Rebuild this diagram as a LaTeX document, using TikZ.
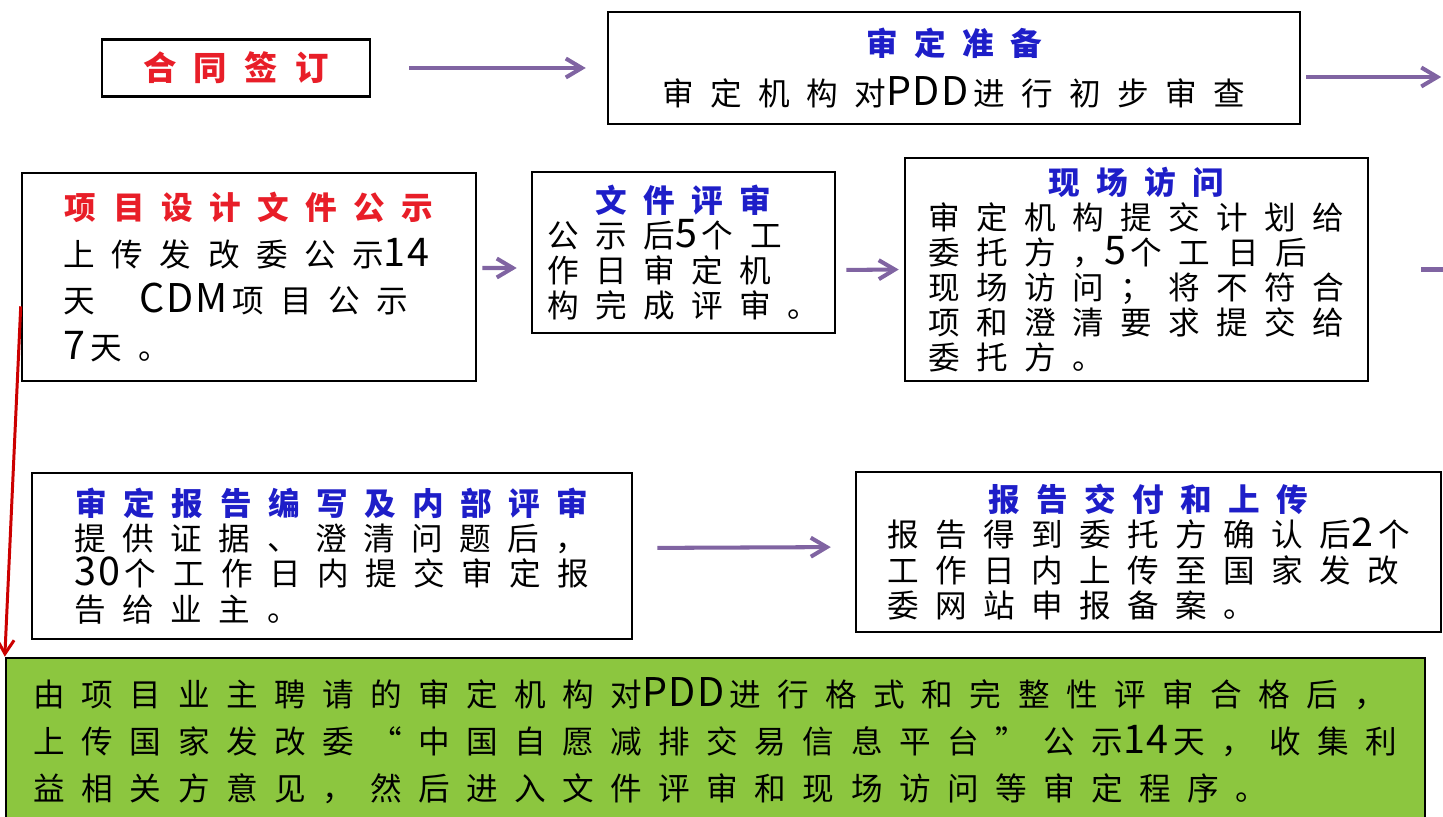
\documentclass[tikz,border=0pt]{standalone}
\usepackage{fontspec}
\setmainfont{Noto Sans CJK SC}[LetterSpace=52]
\newfontfamily\latinpart{Noto Sans CJK SC}[Scale=1.25, LetterSpace=4]
\usetikzlibrary{arrows.meta}
\definecolor{flowpurple}{RGB}{128,100,162}
\definecolor{notegreen}{RGB}{140,198,63}
\definecolor{headred}{RGB}{232,30,40}
\definecolor{headblue}{RGB}{30,30,200}
\newcommand{\latword}[1]{{\latinpart #1}\hspace{0.15em}}
\newcommand{\redhead}[1]{{\bfseries\color{headred}#1}}
\newcommand{\bluehead}[1]{{\bfseries\color{headblue}#1}}
\newcommand{\stagetext}[2]{\vbox{\let\\\cr\halign{##\hfil\cr\hfill#1\hfill\cr#2\crcr}}}
\tikzset{
    stage/.style={draw=black, line width=1.5pt, inner sep=0pt, font=\fontsize{18}{20}\selectfont},
    loose/.style={font=\fontsize{18}{26.7}\selectfont},
    flow/.style={draw=flowpurple, line width=2.3pt, -{Straight Barb[length=0.32cm,width=0.38cm]}},
    backline/.style={draw=red!80!black, line width=1.7pt, -{Straight Barb[length=0.28cm,width=0.34cm]}}
}
\begin{document}
\begin{tikzpicture}[x=0.02cm, y=-0.02cm]
            \useasboundingbox (0,0) rectangle (1443,817);
            \clip (0,0) rectangle (1443,817);
            \node[stage, font=\fontsize{19}{20}\selectfont, minimum width=5.36cm, minimum height=1.14cm] (sign) at (236,68) {\redhead{合同签订}};
            \node[stage, font=\fontsize{18}{28.4}\selectfont, minimum width=13.84cm, minimum height=2.24cm] (prep) at (954,68) {\stagetext{\bluehead{审定准备}}{审定机构对\latword{PDD}进行初步审查}};
            \node[stage, loose, minimum width=9.08cm, minimum height=4.16cm] (pub) at (249,277) {\stagetext{\redhead{项目设计文件公示}}{上传发改委公示\latword{14}\\ 天\hspace{1.4em}\latword{CDM}项目公示\\ \latword{7}天。}};
            \node[stage, minimum width=6.06cm, minimum height=3.22cm] (doc) at (683.5,252.5) {\stagetext{\bluehead{文件评审}}{公示后\latword{5}个工\\ 作日审定机\\ 构完成评审。}};
            \node[stage, minimum width=9.26cm, minimum height=4.46cm] (site) at (1136.5,269.5) {\stagetext{\bluehead{现场访问}}{审定机构提交计划给\\ 委托方，\latword{5}个工日后\\ 现场访问；将不符合\\ 项和澄清要求提交给\\ 委托方。}};
            \node[stage, minimum width=12cm, minimum height=3.32cm] (rep) at (332,556) {\stagetext{\bluehead{审定报告编写及内部评审}}{提供证据、澄清问题后，\\ \latword{30}个工作日内提交审定报\\ 告给业主。}};
            \node[stage, minimum width=11.7cm, minimum height=3.2cm] (up) at (1148.5,552) {\stagetext{\bluehead{报告交付和上传}}{报告得到委托方确认后\latword{2}个\\ 工作日内上传至国家发改\\ 委网站申报备案。}};
            \node[stage, loose, align=left, fill=notegreen, minimum width=28.38cm, minimum height=3.3cm] (note) at (715.5,740.5) {由项目业主聘请的审定机构对\latword{PDD}进行格式和完整性评审合格后，\\ 上传国家发改委“中国自愿减排交易信息平台”公示\latword{14}天，收集利\\ 益相关方意见，然后进入文件评审和现场访问等审定程序。};
            \coordinate (prepout) at ([yshift=-0.18cm,xshift=2.8cm]prep.east);
            \coordinate (sitestub) at ([xshift=1.04cm]site.east);
            \coordinate (siteout) at ([xshift=2cm]site.east);
            \draw[flow, shorten <=0.76cm, shorten >=0.42cm] (sign) -- (prep);
            \draw[flow, shorten <=0.1cm] ([yshift=-0.18cm]prep.east) -- (prepout);
            \draw[flow, shorten <=0.1cm, shorten >=0.28cm] ([yshift=0.18cm]pub.east) -- ([yshift=-0.31cm]doc.west);
            \draw[flow, shorten <=0.2cm, shorten >=0.1cm] ([yshift=-0.35cm]doc.east) -- (site.west);
            \draw[flow] (sitestub) -- (siteout);
            \draw[flow, shorten <=0.48cm, shorten >=0.48cm] ([yshift=0.16cm]rep.east) -- ([yshift=0.1cm]up.west);
            \draw[backline] ([yshift=1.52cm]pub.south west) -- (note.north west);
        \end{tikzpicture}
\end{document}
